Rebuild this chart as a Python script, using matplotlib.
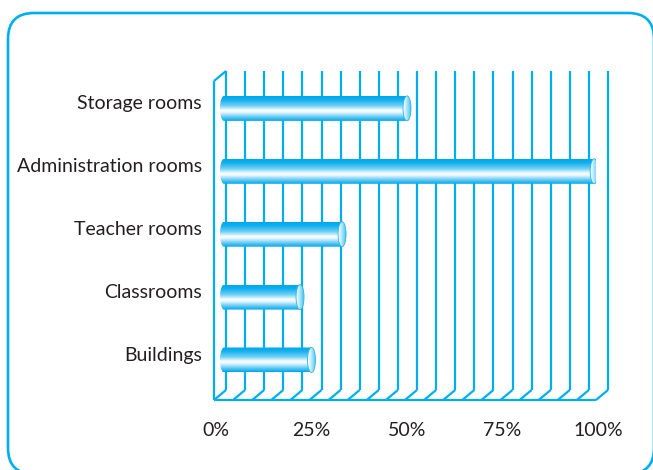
import numpy as np
import matplotlib
matplotlib.use("Agg")
import matplotlib.pyplot as plt
from matplotlib.colors import LinearSegmentedColormap
from matplotlib.patches import PathPatch, Ellipse, FancyBboxPatch
from matplotlib.path import Path
from matplotlib.transforms import IdentityTransform

# ---- data -------------------------------------------------------------
categories = ["Buildings", "Classrooms", "Teacher rooms",
              "Administration rooms", "Storage rooms"]
values = [25, 22, 33, 99, 50]          # percent
tick_values = [0, 25, 50, 75, 100]
tick_labels = ["0%", "25%", "50%", "75%", "100%"]
grid_values = list(range(0, 101, 5))

# ---- style ------------------------------------------------------------
CYAN = "#00aeef"
TEXT = "#231f20"
plt.rcParams["font.family"] = ["Lato", "DejaVu Sans"]

W_PX, H_PX = 653, 470
fig = plt.figure(figsize=(W_PX / 100, H_PX / 100), dpi=100)

# axes: x in percent (front plane), y in category units
left_px, right_px = 214, 596
top_px, bottom_px = 71, 400
ax = fig.add_axes([left_px / W_PX, 1 - bottom_px / H_PX,
                   (right_px - left_px) / W_PX, (bottom_px - top_px) / H_PX])
px_per_pct = (right_px - left_px) / 100.0
px_per_unit = 62.9
y_bottom = -(400 - 360) / px_per_unit
y_top = (360 - 71) / px_per_unit
ax.set_xlim(0, 100)
ax.set_ylim(y_bottom, y_top)
ax.axis("off")

DX = 12 / px_per_pct      # depth offset in x (percent)
DY = 10 / px_per_unit     # depth offset in y (units)
y_back_bottom = y_bottom + DY

# ---- perspective grid --------------------------------------------------
gkw = dict(color=CYAN, lw=1.6, clip_on=False, zorder=1, solid_capstyle="butt")
for g in grid_values:
    ax.plot([g + DX, g + DX], [y_back_bottom, y_top], **gkw)
    ax.plot([g + DX, g], [y_back_bottom, y_bottom], **gkw)
ax.plot([0, 100], [y_bottom, y_bottom], **gkw)
ax.plot([0, 0], [y_bottom, y_top - DY], **gkw)
ax.plot([0, DX], [y_top - DY, y_top], **gkw)

# ---- cylinder bars ----------------------------------------------------
body_cmap = LinearSegmentedColormap.from_list(
    "body", [(0.0, "#00a6eb"), (0.15, "#10b0ee"), (0.38, "#6ccff4"),
             (0.58, "#ffffff"), (0.66, "#e3f6fd"), (0.86, "#55c5f1"),
             (1.0, "#00a8ec")])
cap_cmap = LinearSegmentedColormap.from_list(
    "cap", [(0.0, "#ffffff"), (0.35, "#c9effc"), (1.0, "#4cc4f2")])

bar_h = 25 / px_per_unit
end_a = 4 / px_per_pct            # half-width of the elliptical ends
x0 = DX / 2                       # bars sit half-way into the depth
grad = np.linspace(0, 1, 200).reshape(-1, 1)
grad_h = np.linspace(0, 1, 100).reshape(1, -1)

for i, (cat, v) in enumerate(zip(categories, values)):
    y = i
    tip = x0 + v
    xr = tip - end_a
    xl = x0 + end_a
    t = np.linspace(np.pi / 2, 3 * np.pi / 2, 40)
    left_arc = np.column_stack([xl + end_a * np.cos(t), y + bar_h / 2 * np.sin(t)])
    verts = np.vstack([[[xr, y + bar_h / 2]], left_arc, [[xr, y - bar_h / 2]],
                       [[xr, y + bar_h / 2]]])
    body = PathPatch(Path(verts, closed=True), fc="none", ec="none")
    ax.add_patch(body)
    im = ax.imshow(grad, cmap=body_cmap, aspect="auto", origin="upper",
                   extent=(x0, xr + 0.01, y - bar_h / 2, y + bar_h / 2),
                   interpolation="bilinear", zorder=3)
    im.set_clip_path(body)

    cap = Ellipse((xr, y), 2 * end_a, bar_h, fc="none", ec="none", zorder=4)
    ax.add_patch(cap)
    imc = ax.imshow(grad_h, cmap=cap_cmap, aspect="auto", origin="upper",
                    extent=(xr - end_a, xr + end_a, y - bar_h / 2, y + bar_h / 2),
                    interpolation="bilinear", zorder=4)
    imc.set_clip_path(cap)
    ax.add_patch(Ellipse((xr, y), 2 * end_a, bar_h, fc="none",
                         ec="#29b6ee", lw=0.6, zorder=5))

    ax.text(-12 / px_per_pct, y + 5 / px_per_unit, cat, ha="right",
            va="center", fontsize=14, color=TEXT, clip_on=False)

ax.set_xlim(0, 100)
ax.set_ylim(y_bottom, y_top)

# ---- percent labels -----------------------------------------------------
for tv, tl in zip(tick_values, tick_labels):
    ax.text(tv + 2 / px_per_pct, y_bottom - 31 / px_per_unit, tl, ha="center",
            va="center", fontsize=14, color=TEXT, clip_on=False)

# ---- rounded frame ------------------------------------------------------
frame = FancyBboxPatch((8, H_PX - 474), 646, 461,
                       boxstyle="round,pad=0,rounding_size=26",
                       transform=IdentityTransform(), fc="none", ec=CYAN,
                       lw=1.9, zorder=0)
fig.patches.append(frame)

fig.savefig("out.png", dpi=100)
